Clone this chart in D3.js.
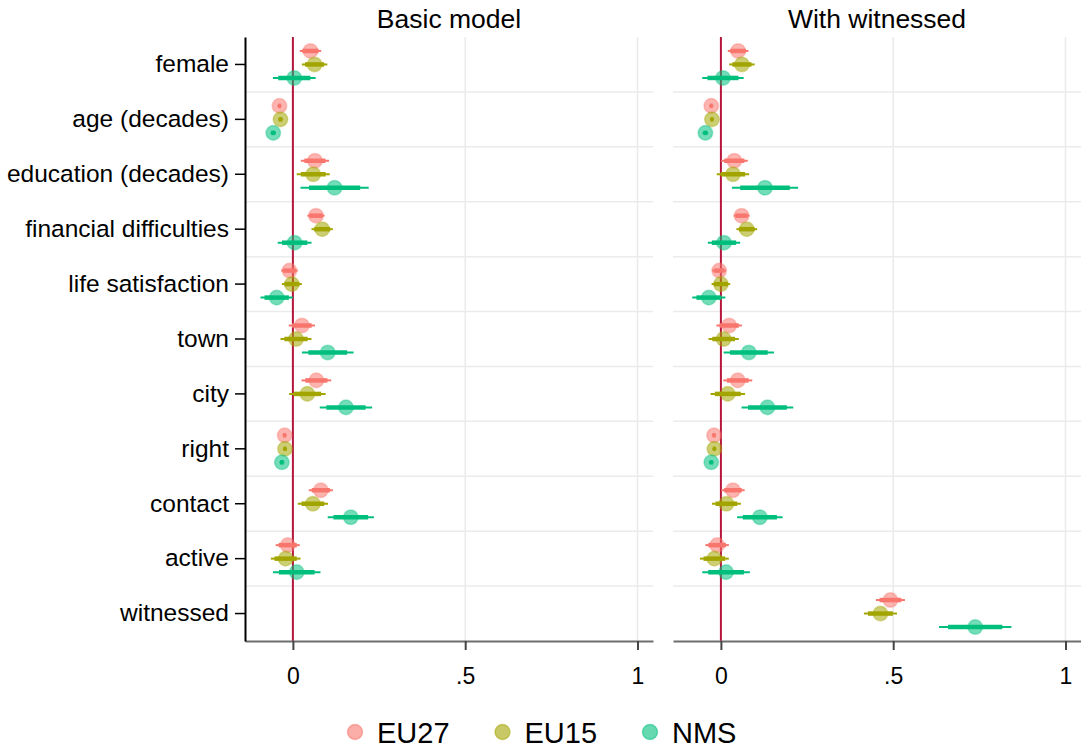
<!DOCTYPE html>
<html>
<head>
<meta charset="utf-8">
<script src="https://cdn.jsdelivr.net/npm/d3@7"></script>
<style>
  body { margin: 0; background: #fff; }
  svg { font-family: "Liberation Sans", Arial, sans-serif; }
</style>
</head>
<body>
<svg id="chart" width="1081" height="749"></svg>
<script>
// ---- data ----
const variables = ["female", "age (decades)", "education (decades)", "financial difficulties",
  "life satisfaction", "town", "city", "right", "contact", "active", "witnessed"];
const seriesNames = ["EU27", "EU15", "NMS"];
const panelTitles = ["Basic model", "With witnessed"];
const xTicks = [0, 0.5, 1];
const xTickLabels = ["0", ".5", "1"];

// coefficient and half-width of outer (95%) interval
const basicEU27 = [0.051, -0.039, 0.064, 0.067, -0.010, 0.026, 0.068, -0.024, 0.081, -0.015, null];
const basicEU27ci = [0.031, 0.006, 0.041, 0.025, 0.024, 0.038, 0.043, 0.006, 0.035, 0.035, null];
const basicEU15 = [0.063, -0.036, 0.059, 0.085, -0.003, 0.009, 0.042, -0.023, 0.058, -0.021, null];
const basicEU15ci = [0.037, 0.007, 0.048, 0.031, 0.029, 0.045, 0.053, 0.006, 0.044, 0.043, null];
const basicNMS = [0.004, -0.057, 0.121, 0.005, -0.047, 0.101, 0.154, -0.032, 0.168, 0.011, null];
const basicNMSci = [0.062, 0.008, 0.099, 0.049, 0.047, 0.075, 0.076, 0.007, 0.067, 0.069, null];

const witEU27 = [0.050, -0.028, 0.039, 0.060, -0.005, 0.024, 0.049, -0.020, 0.035, -0.011, 0.492];
const witEU27ci = [0.030, 0.006, 0.039, 0.023, 0.020, 0.037, 0.042, 0.006, 0.034, 0.034, 0.042];
const witEU15 = [0.061, -0.026, 0.035, 0.075, 0.000, 0.008, 0.020, -0.019, 0.016, -0.019, 0.463];
const witEU15ci = [0.037, 0.006, 0.047, 0.030, 0.027, 0.044, 0.050, 0.006, 0.042, 0.042, 0.048];
const witNMS = [0.006, -0.045, 0.128, 0.009, -0.035, 0.081, 0.135, -0.028, 0.113, 0.015, 0.738];
const witNMSci = [0.060, 0.008, 0.096, 0.047, 0.048, 0.073, 0.075, 0.007, 0.066, 0.069, 0.105];

const panels = [
  { title: panelTitles[0], coefs: [basicEU27, basicEU15, basicNMS], cis: [basicEU27ci, basicEU15ci, basicNMSci] },
  { title: panelTitles[1], coefs: [witEU27, witEU15, witNMS], cis: [witEU27ci, witEU15ci, witNMSci] }
];

const colors = ["#F8766D", "#A3A500", "#00BF7D"];

// ---- layout ----
const svg = d3.select("#chart");
const plotTop = 37, plotBottom = 641;
const panelX = [[245, 653], [673, 1081]];
const innerRatio = 0.75;

const y = d3.scaleBand().domain(variables).range([plotTop, plotBottom]);
const offset = d3.scalePoint().domain(seriesNames).range([-13.5, 13.5]);

panels.forEach((p, pi) => {
  const x = d3.scaleLinear().domain([-0.139, 1.045]).range(panelX[pi]);
  const g = svg.append("g");

  // horizontal grid between rows
  g.selectAll("line.hgrid")
    .data(variables.slice(1))
    .join("line")
    .attr("x1", panelX[pi][0]).attr("x2", panelX[pi][1])
    .attr("y1", d => y(d)).attr("y2", d => y(d))
    .attr("stroke", "#ebebeb").attr("stroke-width", 1.5);

  // vertical grid
  g.selectAll("line.vgrid")
    .data(xTicks.slice(1))
    .join("line")
    .attr("x1", d => x(d)).attr("x2", d => x(d))
    .attr("y1", plotTop).attr("y2", plotBottom)
    .attr("stroke", "#ebebeb").attr("stroke-width", 1.5);

  // zero line
  g.append("line")
    .attr("x1", x(0)).attr("x2", x(0))
    .attr("y1", plotTop).attr("y2", plotBottom)
    .attr("stroke", "#b5173c").attr("stroke-width", 2);

  // bottom axis
  const xAxis = d3.axisBottom(x).tickValues(xTicks)
    .tickFormat((d, i) => xTickLabels[i]).tickSize(9).tickSizeOuter(0).tickPadding(18);
  const ax = g.append("g").attr("transform", `translate(0,${plotBottom})`).call(xAxis);
  ax.select(".domain").attr("stroke", "#6e6e6e").attr("stroke-width", 2);
  ax.selectAll(".tick line").attr("stroke", "#444").attr("stroke-width", 2);
  ax.selectAll(".tick text").attr("font-size", 23).attr("fill", "#000")
    .attr("font-family", "Liberation Sans, Arial, sans-serif");

  // left axis on first panel only
  if (pi === 0) {
    const yAxis = d3.axisLeft(y).tickSize(10).tickSizeOuter(0).tickPadding(6);
    const ay = g.append("g").attr("transform", `translate(${panelX[0][0]},0)`).call(yAxis);
    ay.select(".domain").attr("stroke", "#000").attr("stroke-width", 2);
    ay.selectAll(".tick line").attr("stroke", "#000").attr("stroke-width", 1.5);
    ay.selectAll(".tick text").attr("font-size", 24.5).attr("fill", "#000")
      .attr("font-family", "Liberation Sans, Arial, sans-serif");
  }

  // title
  g.append("text")
    .attr("x", (panelX[pi][0] + panelX[pi][1]) / 2).attr("y", 28)
    .attr("text-anchor", "middle").attr("font-size", 26.5)
    .text(p.title);

  // estimates
  seriesNames.forEach((s, si) => {
    const rows = variables.map((v, i) => ({ v, c: p.coefs[si][i], h: p.cis[si][i] }))
      .filter(d => d.c !== null);
    const cy = d => y(d.v) + y.bandwidth() / 2 + offset(s);
    const sg = g.append("g");
    sg.selectAll("line.outer").data(rows).join("line")
      .attr("x1", d => x(d.c - d.h)).attr("x2", d => x(d.c + d.h))
      .attr("y1", cy).attr("y2", cy)
      .attr("stroke", colors[si]).attr("stroke-width", 2);
    sg.selectAll("line.inner").data(rows).join("line")
      .attr("x1", d => x(d.c - d.h * innerRatio)).attr("x2", d => x(d.c + d.h * innerRatio))
      .attr("y1", cy).attr("y2", cy)
      .attr("stroke", colors[si]).attr("stroke-width", 4.5);
    sg.selectAll("circle").data(rows).join("circle")
      .attr("cx", d => x(d.c)).attr("cy", cy).attr("r", 7.3)
      .attr("fill", colors[si]).attr("fill-opacity", 0.55)
      .attr("stroke", colors[si]).attr("stroke-opacity", 0.35).attr("stroke-width", 1.5);
  });
});

// legend
const legend = svg.append("g").attr("transform", "translate(355,732)");
const item = legend.selectAll("g").data(seriesNames).join("g")
  .attr("transform", (d, i) => `translate(${i * 147.5},0)`);
item.append("circle").attr("r", 7.5)
  .attr("fill", (d, i) => colors[i]).attr("fill-opacity", 0.6)
  .attr("stroke", (d, i) => colors[i]).attr("stroke-opacity", 0.5).attr("stroke-width", 1.5);
item.append("text").attr("x", 22).attr("y", 11).attr("font-size", 29).text(d => d);
</script>
</body>
</html>
